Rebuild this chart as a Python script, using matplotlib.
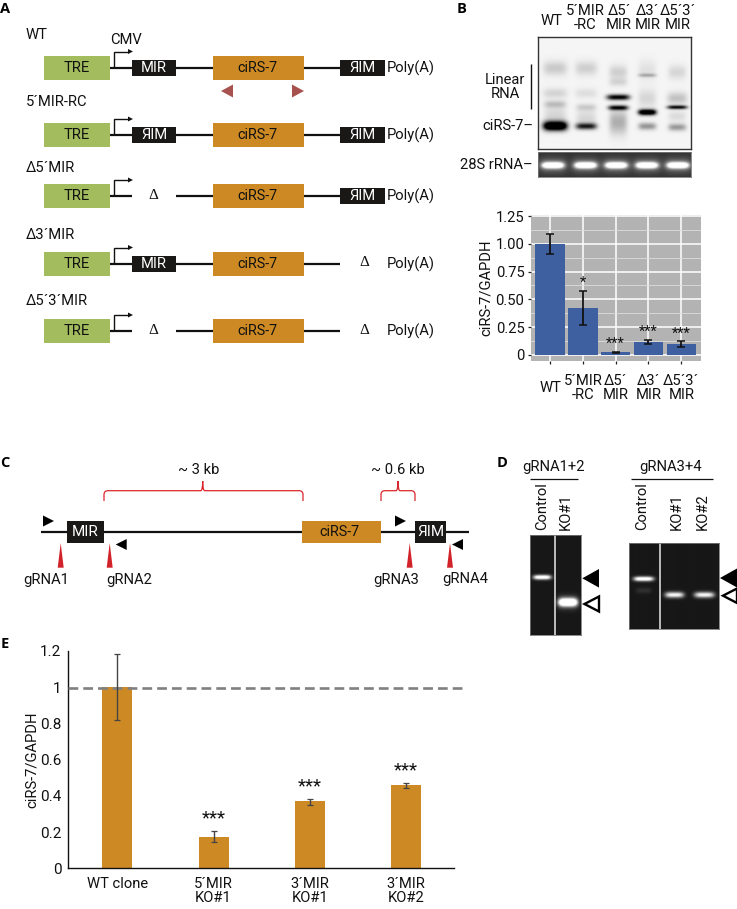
import numpy as np
import matplotlib
matplotlib.use("Agg")
import matplotlib.pyplot as plt
from matplotlib.patches import Rectangle, Polygon, PathPatch
from matplotlib.path import Path

W, H = 737, 909
plt.rcParams["font.family"] = ["Roboto", "Liberation Sans", "DejaVu Sans"]

# ---------- data ----------
b_categories = ["WT", "5´MIR\n-RC", "Δ5´\nMIR", "Δ3´\nMIR", "Δ5´3´\nMIR"]
b_values = [1.0, 0.42, 0.025, 0.115, 0.095]
b_err_low = [0.91, 0.27, 0.02, 0.10, 0.07]
b_err_high = [1.09, 0.58, 0.03, 0.135, 0.125]
b_stars = ["", "*", "***", "***", "***"]
b_yticks = [0, 0.25, 0.5, 0.75, 1.0, 1.25]
b_yticklabels = ["0", "0.25", "0.50", "0.75", "1.00", "1.25"]

e_categories = ["WT clone", "5´MIR\nKO#1", "3´MIR\nKO#1", "3´MIR\nKO#2"]
e_values = [0.999, 0.171, 0.37, 0.459]
e_err_low = [0.821, 0.144, 0.35, 0.444]
e_err_high = [1.182, 0.208, 0.385, 0.471]
e_stars = ["", "***", "***", "***"]
e_yticks = [0, 0.2, 0.4, 0.6, 0.8, 1, 1.2]
e_yticklabels = ["0", "0.2", "0.4", "0.6", "0.8", "1", "1.2"]

construct_names = ["WT", "5´MIR-RC", "Δ5´MIR", "Δ3´MIR", "Δ5´3´MIR"]
construct_left = ["fwd", "rev", None, "fwd", None]
construct_right = ["rev", "rev", "rev", None, None]

# blot bands: (lane x, y, strength, half width, sigma)
blot_bands = [
    (555, 125.7, 1.5, 12, 4.6), (555, 68, .17, 12, 7), (555, 93, .13, 12, 5), (555, 104, .2, 11, 3.5), (555, 115, .12, 11, 10),
    (586, 126, .85, 10.5, 3.2), (586, 68, .15, 11, 7), (586, 93, .09, 11, 5), (586, 107, .16, 10, 3.5), (586, 118, .12, 10, 8),
    (618, 97, 1.0, 11.5, 2.8), (618, 107.5, .95, 10, 2.4), (618, 72, .15, 9, 7), (618, 82, .12, 9, 4), (618, 122, .28, 9, 12),
    (647, 112, 1.3, 9, 2.9), (647, 75, .26, 9, 1.8), (647, 126, .38, 9, 3.6), (647, 98, .12, 9, 9), (647, 70, .08, 9, 10),
    (677, 107, .95, 10, 1.9), (677, 127, .36, 9, 3.6), (677, 98, .2, 10, 6), (677, 72, .12, 9, 7), (677, 116, .1, 9, 5),
]
rrna_lanes = [552.7, 585.3, 616, 646.7, 677.7]
gel1_bands = [(542, 577.3, 1.1, 9, 2.3), (567.7, 602.3, 1.4, 9.5, 4.0), (567.7, 602.3, .2, 11, 7)]
gel2_bands = [(643.7, 579.3, 1.1, 10, 2.3), (674.3, 595.3, .9, 9.5, 2.9), (704, 595.3, .9, 10, 2.9), (643.7, 591, .1, 8, 3)]

# ---------- helpers ----------
TRE = "#a3bc5e"
ORANGE = "#cd8a24"
DARK = "#1a1717"
RED = "#d2232a"
FS = 10.6
fig = plt.figure(figsize=(W / 100, H / 100), dpi=100)
ov = fig.add_axes([0, 0, 1, 1])
ov.set_xlim(0, W)
ov.set_ylim(H, 0)
ov.axis("off")


def px_axes(x0, y0, x1, y1, **kw):
    return fig.add_axes([x0 / W, 1 - y1 / H, (x1 - x0) / W, (y1 - y0) / H], **kw)


def rect(x0, x1, y0, y1, color, z=3):
    ov.add_patch(Rectangle((x0, y0), x1 - x0, y1 - y0, fc=color, ec="none", zorder=z))


def tri(pts, color, ec="none", lw=0, z=4):
    ov.add_patch(Polygon(pts, closed=True, fc=color, ec=ec, lw=lw, zorder=z, joinstyle="miter"))


def line(xs, ys, lw=1.6, color="#111111", z=2):
    ov.plot(xs, ys, color=color, lw=lw, zorder=z, solid_capstyle="butt", solid_joinstyle="miter")


def txt(x, y, s, size=FS, ha="center", va="center", color="#111111", **kw):
    return ov.text(x, y, s, fontsize=size, ha=ha, va=va, color=color, zorder=6, **kw)


def letter(x, y, s):
    ov.text(x, y, s, fontsize=10.5, fontweight="bold", family="Open Sans", ha="left", va="center", color="black")


def mir(x0, x1, y, hh, reverse, size=FS):
    rect(x0, x1, y - hh, y + hh, DARK)
    txt((x0 + x1) / 2, y, "ЯIM" if reverse else "MIR", size=size, color="white")


def delta(x, y):
    ov.text(x, y, "Δ", fontsize=11, family="Liberation Serif", ha="center", va="center", color="#111111")


def gel(box, splits, bands, bg=0.09, invert=False, frame="#777777", flw=0.6):
    x0, y0, x1, y1 = box
    X, Y = np.meshgrid(np.arange(x0, x1, 0.5), np.arange(y0, y1, 0.5))
    img = np.full(X.shape, bg)
    for (cx, cy, s, hw, sg) in bands:
        img = img + s * np.exp(-np.abs((X - cx) / hw) ** 4) * np.exp(-((Y - cy) / sg) ** 2)
    img = np.clip(img, 0, 1)
    ax = px_axes(x0, y0, x1, y1)
    ax.imshow(1 - img if invert else img, cmap="gray", vmin=0, vmax=1, aspect="auto",
              extent=(x0, x1, y1, y0), interpolation="bilinear")
    for sx in splits:
        ax.axvline(sx, color="#e8e8e8", lw=1.1)
    ax.set_xticks([]); ax.set_yticks([])
    for sp in ax.spines.values():
        sp.set_color(frame); sp.set_linewidth(flw)


# ---------- panel A ----------
letter(0.5, 9, "A")
row_y = [67.5, 135, 196, 263.5, 331]
name_y = [35, 102, 168, 235, 301]
for name, y, ny, lf, rt in zip(construct_names, row_y, name_y, construct_left, construct_right):
    txt(26, ny, name, ha="left")
    rect(44, 110.5, y - 12, y + 12, TRE)
    txt(77, y, "TRE")
    rect(213, 304, y - 12, y + 12, ORANGE)
    txt(257, y, "ciRS-7", size=10.4)
    line([110, 132], [y, y]); line([176, 213], [y, y]); line([304, 340], [y, y])
    line([114, 114, 129], [y, y - 16, y - 16], lw=1.0)
    tri([(128, y - 18.5), (133, y - 16), (128, y - 13.5)], "#111111")
    if lf:
        mir(132, 176.5, y, 8, lf == "rev")
    else:
        delta(153.7, y - 0.5)
    if rt:
        mir(340, 385, y, 8, rt == "rev")
    else:
        delta(364, y - 0.5)
    txt(387, y + 0.5, "Poly(A)", ha="left")
txt(126.5, 40, "CMV")
tri([(221, 91), (233, 84.5), (233, 97.5)], "#a8524f")
tri([(304, 91), (292, 84.5), (292, 97.5)], "#a8524f")

# ---------- panel B blot ----------
letter(456.5, 9, "B")
gel((538, 37, 691, 149), [], blot_bands, bg=0.04, invert=True, frame="#333333", flw=1.0)
gel((538, 152, 691, 177), [], [(x, 165, 1.0, 11, 3.0) for x in rrna_lanes] + [(x, 165, .3, 14, 7) for x in rrna_lanes], bg=0.2)

blot_label_x = [552, 585, 619, 647.7, 677.7]
blot_label_y = [20.7, 18, 18, 18, 18]
for x, y, s in zip(blot_label_x, blot_label_y, b_categories):
    txt(x, y, s, linespacing=1.0)
txt(505, 86.5, "Linear\nRNA", linespacing=1.0)
line([531, 531], [64, 109], lw=1.0)
txt(533, 125.7, "ciRS-7–", ha="right")
txt(533, 165, "28S rRNA–", ha="right")

# ---------- panel B bars ----------
ax = px_axes(530.7, 215, 701, 361)
ax.set_facecolor("#b3b3b3")
pos = np.arange(len(b_values))
ax.bar(pos, b_values, width=0.9, color="#3e60a0", zorder=3)
ax.errorbar(pos, b_values,
            yerr=[np.array(b_values) - b_err_low, np.array(b_err_high) - b_values],
            fmt="none", ecolor="#111111", elinewidth=1.3, capsize=2.6, capthick=1.1, zorder=4)
ax.set_xlim(-0.59, 4.6)
ax.set_ylim(-0.054, 1.259)
ax.set_yticks(b_yticks, b_yticklabels, fontsize=10.6, color="#111111")
ax.set_yticks([0.125, 0.375, 0.625, 0.875, 1.125], minor=True)
ax.set_xticks(pos, b_categories, fontsize=FS, color="#111111", va="center", linespacing=1.0)
ax.grid(True, which="major", color="white", lw=1.1, zorder=1)
ax.grid(True, which="minor", axis="y", color="#dcdcdc", lw=0.6, zorder=1)
ax.tick_params(axis="y", which="minor", length=0)
ax.tick_params(axis="both", which="major", length=2.5, width=0.9, color="#222222")
ax.tick_params(axis="x", pad=17)
ax.tick_params(axis="y", which="major", pad=2)
ax.set_axisbelow(True)
for sp in ax.spines.values():
    sp.set_visible(False)
ax.set_ylabel("ciRS-7/GAPDH", fontsize=FS, color="#111111")
ax.yaxis.set_label_coords((493 - 530.7) / (701 - 530.7), 0.5)
for p, top, st in zip(pos, b_err_high, b_stars):
    if st:
        ax.annotate(st, (p, top), xytext=(0, 0.5), textcoords="offset points", ha="center", va="bottom", fontsize=10.5, color="#111111", zorder=5)

# ---------- panel C ----------
letter(0.5, 463, "C")
yc = 531.7
line([41, 469], [yc, yc])
rect(66.7, 104, 521, 543.3, DARK)
txt(85, yc, "MIR", size=11, color="white")
rect(301.7, 381.3, 521, 543.3, ORANGE)
txt(339, yc, "ciRS-7", size=10.4)
mir(415, 445.7, yc, 11.2, True, size=11)
for x0, y, d in [(43, 521, 1), (395, 521, 1), (126.7, 544.5, -1), (463, 544.5, -1)]:
    tri([(x0, y - 5.5), (x0 + d * 11, y), (x0, y + 5.5)], "black")
for x, lx, ly, s in [(60.7, 45.7, 580, "gRNA1"), (109.7, 129, 580, "gRNA2"), (409.7, 396, 580, "gRNA3"), (450, 465, 579, "gRNA4")]:
    tri([(x - 3, 567.7), (x, 543), (x + 3, 567.7)], RED)
    txt(lx, ly, s)


def brace(x0, x1, xm, yb, yt, ytip, r):
    v = [(x0, yb), (x0, yt + r), (x0, yt), (x0 + r, yt), (xm - 2, yt), (xm, yt), (xm, ytip),
         (xm, yt), (xm + 2, yt), (x1 - r, yt), (x1, yt), (x1, yt + r), (x1, yb)]
    c = [Path.MOVETO, Path.LINETO, Path.CURVE3, Path.CURVE3, Path.LINETO, Path.CURVE3, Path.CURVE3,
         Path.CURVE3, Path.CURVE3, Path.LINETO, Path.CURVE3, Path.CURVE3, Path.LINETO]
    ov.add_patch(PathPatch(Path(v, c), fc="none", ec="#d8262c", lw=0.9, zorder=3))


brace(104, 303, 202.7, 501, 490.7, 481, 4)
brace(381, 415, 398, 501, 490.7, 481, 4)
txt(199, 470, "~ 3 kb")
txt(398, 470, "~ 0.6 kb")

# ---------- panel D ----------
letter(497, 463, "D")
gel((530, 535.3, 580.7, 635.3), [555], gel1_bands)
gel((629.3, 542.7, 718.7, 629.3), [659.7], gel2_bands)
for x, s in [(542.3, "Control"), (566, "KO#1"), (641.7, "Control"), (676.7, "KO#1"), (702.3, "KO#2")]:
    txt(x, 530, s, rotation=90, va="bottom")
txt(554, 467.5, "gRNA1+2")
txt(671, 467.5, "gRNA3+4")
line([530, 578], [478.7, 478.7], lw=0.9)
line([631, 712.7], [478.7, 478.7], lw=0.9)
tri([(582.3, 578.3), (599, 569), (599, 587.6)], "black")
tri([(584.5, 604), (599, 596.5), (599, 611.5)], "white", ec="black", lw=1.7)
tri([(720, 578), (737, 568.5), (737, 587.5)], "black")
tri([(723, 595.7), (737, 588.5), (737, 603)], "white", ec="black", lw=1.7)

# ---------- panel E ----------
letter(0.5, 644, "E")
ax2 = px_axes(68.3, 651, 454.3, 868.3)
ax2.patch.set_alpha(0)
pos2 = np.arange(len(e_values))
ax2.bar(pos2, e_values, width=0.31, color=ORANGE, zorder=2)
ax2.errorbar(pos2, e_values,
             yerr=[np.array(e_values) - e_err_low, np.array(e_err_high) - e_values],
             fmt="none", ecolor="#444444", elinewidth=1.0, capsize=2.5, capthick=0.9, zorder=4)
ax2.plot([-0.509, 3.62], [0.998, 0.998], color="#808080", lw=1.9, dashes=(3.7, 1.9), clip_on=False, zorder=3)
ax2.set_xlim(-0.509, 3.5)
ax2.set_ylim(0, 1.2)
ax2.set_yticks(e_yticks, e_yticklabels, fontsize=11, color="#111111")
ax2.set_xticks(pos2, e_categories, fontsize=FS, color="#111111", linespacing=1.05)
ax2.tick_params(length=0)
ax2.tick_params(axis="y", pad=5)
ax2.tick_params(axis="x", pad=6)
for s in ("top", "right"):
    ax2.spines[s].set_visible(False)
for s in ("left", "bottom"):
    ax2.spines[s].set_linewidth(1.0); ax2.spines[s].set_color("#111111")
ax2.set_ylabel("ciRS-7/GAPDH", fontsize=FS, color="#111111")
ax2.yaxis.set_label_coords((39 - 68.3) / (454.3 - 68.3), 0.5)
for p, top, st in zip(pos2, e_err_high, e_stars):
    if st:
        ax2.annotate(st, (p, top), xytext=(0, 2.5), textcoords="offset points", ha="center", va="bottom", fontsize=13.5, color="#111111", zorder=5)

fig.savefig("out.png", dpi=100)
